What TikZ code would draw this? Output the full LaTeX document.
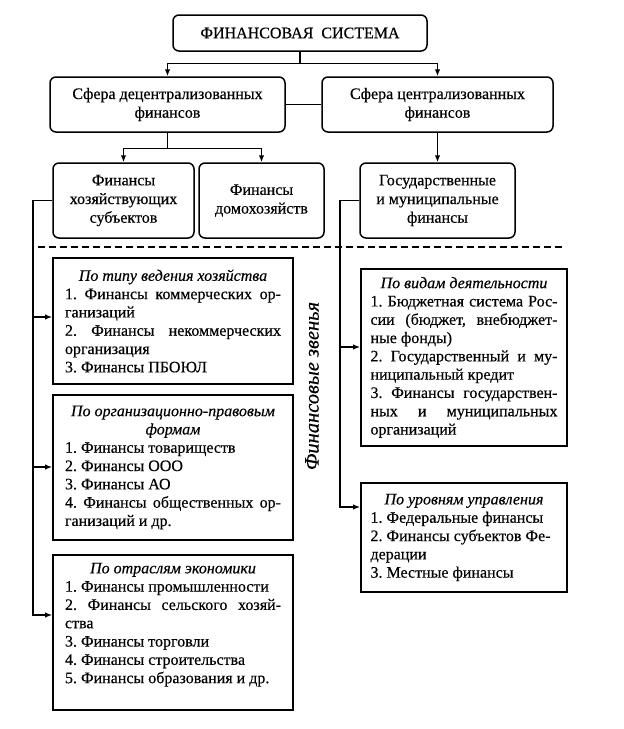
\documentclass[tikz,border=0pt]{standalone}
\usepackage{fontspec}
\setmainfont{Liberation Serif}[FakeBold=0.35]
\usetikzlibrary{arrows.meta}
\newcommand\lsetup{\frenchspacing\parindent=0pt \hyphenpenalty=10000 \exhyphenpenalty=10000 \tolerance=10000 \hbadness=10000 \relax}
\tikzset{
  rbox/.style={draw, line width=1.5pt, rounded corners=6pt, align=center, inner sep=0pt,
    font=\fontsize{16}{18.7}\selectfont},
  lbox/.style={draw, line width=1.8pt, inner sep=0pt, align=justify,
    font=\fontsize{16}{18.3}\selectfont},
  conn/.style={line width=1.3pt},
  arr/.style={conn, -{Latex[length=7pt,width=5.5pt]}},
  sepline/.style={line width=1.2pt, dash pattern=on 7pt off 4pt},
  vlabel/.style={font=\itshape\fontsize{20.5}{22}\selectfont, rotate=90, inner sep=0pt},
}
\begin{document}
\begin{tikzpicture}[x=1pt,y=-1pt]
\fill[white] (0,0) rectangle (624,729);
\useasboundingbox (0,0) rectangle (624,729);

\node[rbox, minimum width=254pt, minimum height=36pt] (fs) at (300,33) {ФИНАНСОВАЯ\ \ СИСТЕМА};
\node[rbox, minimum width=235pt, minimum height=55pt] (dec) at (167.5,104.5) {Сфера децентрализованных\\финансов};
\node[rbox, minimum width=231pt, minimum height=55pt] (cen) at (437.5,104.5) {Сфера централизованных\\финансов};
\node[rbox, minimum width=141pt, minimum height=75pt] (fh) at (123.5,200.5) {Финансы\\хозяйствующих\\субъектов};
\node[rbox, minimum width=125pt, minimum height=75pt] (fd) at (261.5,200.5) {Финансы\\домохозяйств};
\node[rbox, minimum width=155pt, minimum height=75pt] (gm) at (437.5,200.5) {Государственные\\и муниципальные\\финансы};

\node[lbox, minimum width=240pt, minimum height=126pt, text width=216pt] (b1) at (173,321)
 {\lsetup{\centering\textit{По типу ведения хозяйства}\par}
  1. Финансы коммерческих ор-\linebreak ганизаций\par
  2. Финансы некоммерческих\linebreak организация\par
  3. Финансы ПБОЮЛ};
\node[lbox, minimum width=240pt, minimum height=145pt, text width=216pt] (b2) at (173,467.5)
 {\lsetup{\centering\textit{По организационно-правовым\\формам}\par}
  1. Финансы товариществ\par
  2. Финансы ООО\par
  3. Финансы АО\par
  4. Финансы общественных ор-\linebreak ганизаций и др.};
\node[lbox, minimum width=240pt, minimum height=155pt, text width=216pt] (b5) at (173,632.5)
 {\lsetup{\centering\textit{По отраслям экономики}\par}
  1. Финансы промышленности\par
  2. Финансы сельского хозяй-\linebreak ства\par
  3. Финансы торговли\par
  4. Финансы строительства\par
  5. Финансы образования и др.\rule[-19pt]{0pt}{1pt}};
\node[lbox, minimum width=206pt, minimum height=177pt, text width=187pt] (b3) at (464,357.5)
 {\lsetup{\centering\textit{По видам деятельности}\par}
  1. Бюджетная система Рос-\linebreak сии (бюджет, внебюджет-\linebreak ные фонды)\par
  2. Государственный и му-\linebreak ниципальный кредит\par
  3. Финансы государствен-\linebreak ных и муниципальных\linebreak организаций};
\node[lbox, minimum width=206pt, minimum height=109pt, text width=187pt] (b4) at (464,537.5)
 {\lsetup{\centering\textit{По уровням управления}\par}
  1. Федеральные финансы\par
  2. Финансы субъектов Фе-\newline дерации\par
  3. Местные финансы};

\node[vlabel] (fz) at (312,386) {Финансовые звенья};

\coordinate (d1) at (38,247);
\coordinate (d2) at (565,247);
\draw[sepline] (d1) -- (d2);

\draw[conn] (fs.south) -- ++(0,12) coordinate (j1);
\draw[arr] (j1) -| (dec.north);
\draw[arr] (j1) -| (cen.north);
\draw[conn] (dec.east) -- (cen.west);
\draw[conn] (dec.south) -- ++(0,16) coordinate (j2);
\draw[arr] (j2) -| (fh.north);
\draw[arr] (j2) -| (fd.north);
\draw[arr] (cen.south) -- (gm.north);

\coordinate (l1) at (33,317);
\coordinate (l2) at (33,467);
\coordinate (l3) at (33,615);
\draw[arr] (fh.west) -| (l3) -- (l3 -| b5.west);
\draw[arr] (l1) -- (l1 -| b1.west);
\draw[arr] (l2) -- (l2 -| b2.west);

\coordinate (r1) at (340,347);
\coordinate (r2) at (340,507);
\draw[arr] (gm.west) -| (r2) -- (r2 -| b4.west);
\draw[arr] (r1) -- (r1 -| b3.west);
\end{tikzpicture}
\end{document}
